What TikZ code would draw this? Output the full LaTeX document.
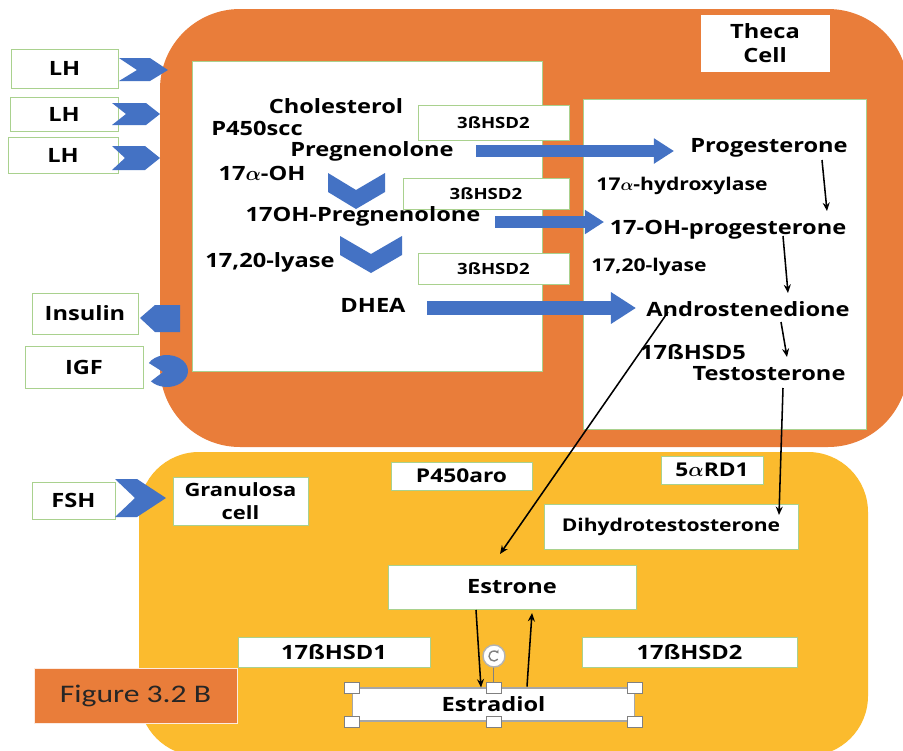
\documentclass[tikz,border=0pt]{standalone}
\usepackage{fontspec}
\setmainfont[FakeStretch=1.2]{Open Sans}
\newfontfamily\figfont[FakeStretch=1.25]{Carlito}
\usetikzlibrary{arrows.meta,calc}

\definecolor{thecaorange}{RGB}{233,125,58}
\definecolor{granyellow}{RGB}{251,187,46}
\definecolor{shapeblue}{RGB}{68,114,196}
\definecolor{boxgreen}{RGB}{169,209,142}
\definecolor{textgray}{RGB}{38,38,38}

\tikzset{
  lbl/.style={font=\fontsize{14}{16}\selectfont\bfseries, inner sep=0pt},
  sublbl/.style={font=\fontsize{12.5}{14}\selectfont\bfseries, inner sep=0pt},
  box/.style={draw=boxgreen, fill=white, line width=0.6pt, align=center,
    inner sep=0pt, font=\fontsize{14}{17}\selectfont\bfseries},
  enzbox/.style={box, font=\fontsize{11}{12}\selectfont\bfseries},
  handle/.style={draw=gray, fill=white, line width=0.5pt,
    minimum width=0.375cm, minimum height=0.275cm, inner sep=0pt},
  blockarrow/.style={draw=shapeblue, line width=0.3cm,
    -{Triangle[width=0.6cm,length=0.5cm]}},
  arr/.style={line width=1.1pt, -{Stealth[length=6pt,width=5pt]}}
}

\begin{document}
\begin{tikzpicture}[x=0.025cm, y=-0.025cm]
        % Page
        \useasboundingbox (0,0) rectangle (903,751);
        \fill[white] (0,0) rectangle (903,751);
        \clip (0,0) rectangle (903,751);

        % Draw cells
        \fill[thecaorange, rounded corners=2cm] (160,9) rectangle (908,447);
        \fill[granyellow, rounded corners=1.5cm] (139,452) rectangle (868,756);
        \draw[boxgreen, fill=white] (192,61) rectangle (542,371);
        \draw[boxgreen, fill=white] (583,99) rectangle (866,429);

        % Draw signal boxes
        \node[box, minimum width=2.675cm, minimum height=0.975cm] (lh1) at (64.5,68.5) {LH};
        \node[box, minimum width=2.7cm, minimum height=0.85cm] (lh2) at (64,114) {LH};
        \node[box, minimum width=2.75cm, minimum height=0.9cm] (lh3) at (63,155) {LH};
        \node[box, minimum width=2.65cm, minimum height=1.025cm] (insulin) at (85,313.5) {Insulin};
        \node[box, minimum width=2.95cm, minimum height=1.05cm] (igf) at (84,367) {IGF};
        \node[box, minimum width=2.075cm, minimum height=0.925cm] (fsh) at (73.5,500.5) {FSH};

        % Draw receptors
        \fill[shapeblue] (119,58) -- (150,58) -- (168,70) -- (150,81) -- (119,81) -- (137,70) -- cycle;
        \fill[shapeblue] (112,103) -- (146,103) -- (160,114) -- (146,125) -- (112,125) -- (126,114) -- cycle;
        \fill[shapeblue] (112,146) -- (145,146) -- (160,158) -- (145,170) -- (112,170) -- (125,158) -- cycle;
        \fill[shapeblue] (140,318) -- (155,305) -- (180,305) -- (180,332) -- (155,332) -- cycle;
        \fill[shapeblue] (163,372) -- ($(167,371)+(140:21 and 16)$)
          arc[start angle=140, end angle=-150, x radius=21, y radius=16] -- cycle;
        \fill[shapeblue] (115,479) -- (137,479) -- (166,498) -- (137,517) -- (115,517) -- (135,498) -- cycle;

        % Draw cell labels and enzymes
        \node[box, draw=white, minimum width=3.2cm, minimum height=1.4cm] (theca) at (765,43) {Theca\\Cell};
        \node[enzbox, minimum width=3.775cm, minimum height=0.875cm] (hsda) at (493.5,122.5) {3ßHSD2};
        \node[enzbox, minimum width=4.15cm, minimum height=0.775cm] (hsdb) at (486,193.5) {3ßHSD2};
        \node[enzbox, minimum width=3.775cm, minimum height=0.775cm] (hsdc) at (493.5,268.5) {3ßHSD2};

        % Draw steroids (theca)
        \node[lbl] (chol) at (336,106) {Cholesterol};
        \node[lbl] (p450scc) at (257,128) {P450scc};
        \node[lbl] (preg) at (372,151) {Pregnenolone};
        \node[lbl] (ohalpha) at (262,173) {17{\boldmath$\alpha$}-OH};
        \node[lbl] (ohpreg) at (363,216) {17OH-Pregnenolone};
        \node[lbl] (lyase) at (270,262) {17,20-lyase};
        \node[lbl] (dhea) at (373,305) {DHEA};
        \node[lbl] (prog) at (769,148) {Progesterone};
        \node[sublbl] (hydrox) at (682,186) {17{\boldmath$\alpha$}-hydroxylase};
        \node[lbl] (ohprog) at (728,230) {17-OH-progesterone};
        \node[sublbl] (lyaseb) at (649,267) {17,20-lyase};
        \node[lbl] (andro) at (748,309) {Androstenedione};
        \node[lbl] (hsdfive) at (693,352) {17ßHSD5};
        \node[lbl] (testo) at (769,374) {Testosterone};

        % Chevrons
        \fill[shapeblue] (328,173) -- (356,190) -- (385,173) -- (385,192) -- (356,209) -- (328,192) -- cycle;
        \fill[shapeblue] (340,236) -- (371,254) -- (402,236) -- (402,255) -- (371,273) -- (340,255) -- cycle;

        % Block arrows
        \draw[blockarrow] ($(preg)+(104,0)$) -- ($(prog)+(-95,3)$);
        \draw[blockarrow, -{Triangle[width=0.575cm,length=0.475cm]}] ($(ohpreg)+(132,6)$) -- ($(ohprog)+(-124,-8)$);
        \draw[blockarrow, line width=0.35cm, -{Triangle[width=0.75cm,length=0.625cm]}] ($(dhea)+(54,3)$) -- ($(andro)+(-112,-1)$);

        % Granulosa cell
        \node[box, minimum width=3.375cm, minimum height=1.2cm, font=\fontsize{13}{16}\selectfont\bfseries] (gran) at (240.5,501) {Granulosa\\cell};
        \node[box, minimum width=3.525cm, minimum height=0.7cm, font=\fontsize{13.5}{16}\selectfont\bfseries] (aro) at (461.5,476) {P450aro};
        \node[box, minimum width=2.55cm, minimum height=0.7cm, font=\fontsize{13.5}{16}\selectfont\bfseries] (rd) at (712,470) {5{\boldmath$\alpha$}RD1};
        \node[box, minimum width=6.35cm, minimum height=1.125cm, font=\fontsize{12.5}{15}\selectfont\bfseries] (dht) at (671,526.5) {Dihydrotestosterone};
        \node[box, minimum width=6.2cm, minimum height=1.1cm] (estrone) at (512,587) {Estrone};
        \node[box, minimum width=4.8cm, minimum height=0.75cm] (hsdone) at (334,652) {17ßHSD1};
        \node[box, minimum width=5.375cm, minimum height=0.75cm] (hsdtwo) at (689.5,652) {17ßHSD2};
        \node[box, draw=gray!70, line width=0.9pt, minimum width=7.05cm, minimum height=0.825cm] (estradiol) at (493.5,704.5) {Estradiol};
        \node[draw=white!85!thecaorange, fill=thecaorange, line width=0.6pt, minimum width=5.075cm, minimum height=1.375cm,
          font=\figfont\fontsize{18}{20}\selectfont, text=textgray] (fig) at (135.5,695.5) {Figure 3.2 B};

        % Selection handles
        \draw[gray, line width=0.8pt] (estradiol.north) -- ++(0,-21);
        \node[circle, draw=gray!60, fill=white, line width=1pt, minimum size=0.55cm, inner sep=0pt] (rot) at (494,656) {};
        \draw[gray, line width=1pt, -{Stealth[length=2.5pt,width=3pt]}] ($(rot)+(40:5)$) arc[start angle=40, end angle=330, radius=5];
        \foreach \a/\n in {north west/1, north/2, north east/3, south west/4, south/5, south east/6}
          \node[handle] (h\n) at (estradiol.\a) {};

        % Draw conversions
        \draw[arr] ($(prog)+(53,12)$) -- ($(ohprog)+(99,-19)$);
        \draw[arr] ($(ohprog)+(55,6)$) -- ($(andro)+(40,-16)$);
        \draw[arr] ($(andro)+(33,13)$) -- ($(testo)+(18,-17)$);
        \draw[arr] ($(testo)+(14,14)$) -- ($(dht)+(108,-11.5)$);
        \draw[arr] ($(andro)+(-80,3)$) -- ($(estrone)+(-12,-33)$);
        \draw[arr] ($(estrone)+(-36,23)$) -- ($(estradiol)+(-12.5,-17)$);
        \draw[arr] ($(estradiol)+(33.5,-18)$) -- ($(estrone)+(20,26)$);
\end{tikzpicture}
\end{document}
